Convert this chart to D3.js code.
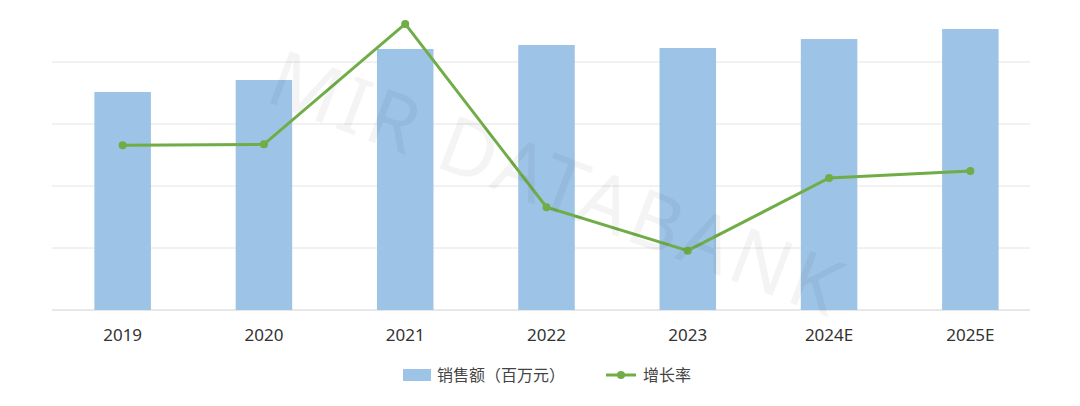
<!DOCTYPE html>
<html><head><meta charset="utf-8">
<script src="https://cdn.jsdelivr.net/npm/d3@7"></script>
<style>body{margin:0;background:#fff;font-family:"Noto Sans CJK SC","Noto Sans",sans-serif;}</style>
</head><body><div id="chart"></div>
<script>
var years = ["2019", "2020", "2021", "2022", "2023", "2024E", "2025E"];
var sales = [175.8, 185.5, 210.5, 213.7, 211.3, 218.5, 226.6];
var growth = [3.6, 3.7, 17.3, -3.4, -8.3, -0.1, 0.7];
var gridTicks = [0, 50, 100, 150, 200];

var svg = d3.select("#chart").append("svg")
            .attr("width", 1080)
            .attr("height", 406);

var x = d3.scaleBand().domain(years).range([52, 1041]).paddingInner(0.6).paddingOuter(0.3);
var y = d3.scaleLinear().domain([0, 250]).range([310, 0]);
var y2 = d3.scaleLinear().domain([-15, 20]).range([310, 0]);

svg.selectAll(".grid").data(gridTicks).enter().append("line")
   .attr("x1", 52).attr("x2", 1030)
   .attr("y1", function (d) { return y(d); })
   .attr("y2", function (d) { return y(d); })
   .style("stroke", function (d) { return d === 0 ? "#d0d0d0" : "#e4e4e4"; });

svg.selectAll(".bar").data(sales).enter().append("rect")
   .attr("x", function (d, i) { return x(years[i]); })
   .attr("y", function (d) { return y(d); })
   .attr("width", x.bandwidth())
   .attr("height", function (d) { return y(0) - y(d); })
   .style("fill", "#9DC3E6");

svg.append("g").attr("transform", "translate(0,310)")
   .call(d3.axisBottom(x).tickSize(0).tickPadding(19))
   .call(function (g) { g.select(".domain").remove(); })
   .selectAll("text").style("font-size", "17px").style("fill", "#333")
   .style("font-family", "'Noto Sans', sans-serif");

var line = d3.line()
   .x(function (d, i) { return x(years[i]) + x.bandwidth() / 2; })
   .y(function (d) { return y2(d); });

svg.append("path").datum(growth).attr("d", line)
   .style("fill", "none").style("stroke", "#70AD47").style("stroke-width", 3);

svg.selectAll(".pt").data(growth).enter().append("circle")
   .attr("cx", function (d, i) { return x(years[i]) + x.bandwidth() / 2; })
   .attr("cy", function (d) { return y2(d); })
   .attr("r", 4).style("fill", "#70AD47");

// watermark
svg.append("text").attr("transform", "translate(555,190) rotate(21)")
   .attr("text-anchor", "middle").attr("dominant-baseline", "middle")
   .style("font-size", "78px").style("fill", "#000").style("opacity", 0.04)
   .style("font-family", "'Noto Sans', sans-serif").style("letter-spacing", "4px")
   .text("MIR DATABANK");

// legend
svg.append("rect").attr("x", 403).attr("y", 369).attr("width", 28).attr("height", 12).style("fill", "#9DC3E6");
svg.append("text").attr("x", 437).attr("y", 381).style("font-size", "16px").style("fill", "#444").text("销售额（百万元）");
svg.append("line").attr("x1", 606).attr("x2", 636).attr("y1", 375).attr("y2", 375)
   .style("stroke", "#70AD47").style("stroke-width", 3);
svg.append("circle").attr("cx", 621).attr("cy", 375).attr("r", 4).style("fill", "#70AD47");
svg.append("text").attr("x", 643).attr("y", 381).style("font-size", "16px").style("fill", "#444").text("增长率");
</script></body></html>
